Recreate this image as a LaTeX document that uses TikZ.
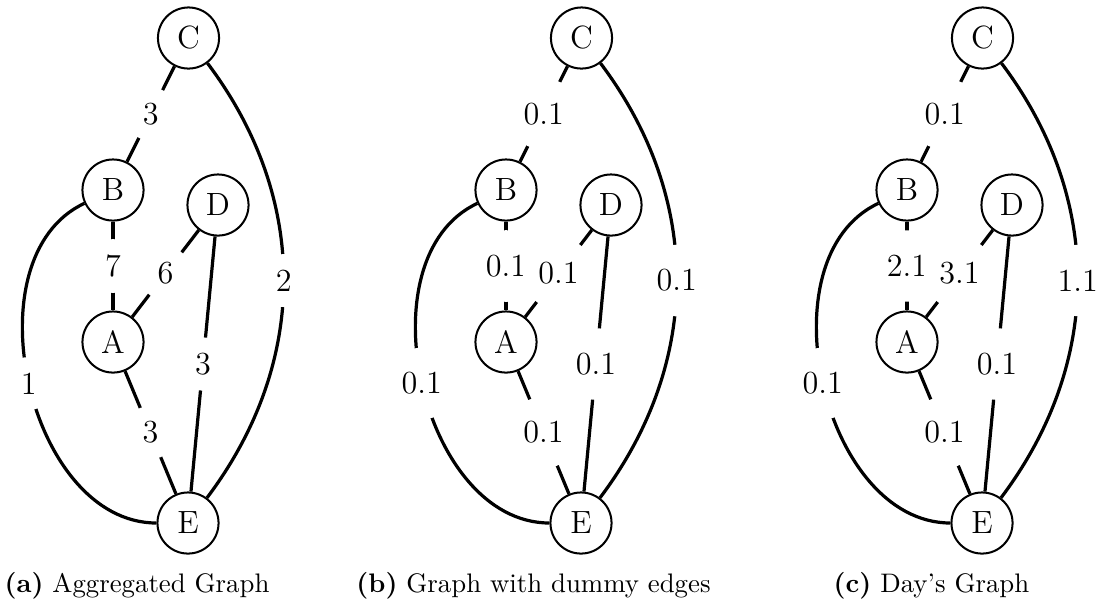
\documentclass[tikz,border=0pt]{standalone}
\usepackage{tikz}

% one weighted graph: #1 x offset, #2 name prefix, #3--#9 edge weights
\newcommand{\wgraph}[9]{%
  \begin{scope}[shift={(#1,0)}]
    \node[vertex] (#2C) at (188.5,38) {C};
    \node[vertex] (#2B) at (113,190) {B};
    \node[vertex] (#2D) at (218,205) {D};
    \node[vertex] (#2A) at (113,342) {A};
    \node[vertex] (#2E) at (188,523) {E};
    \draw[edge] (#2C) -- node[weight] {#3} (#2B);
    \draw[edge] (#2B) -- node[weight] {#4} (#2A);
    \draw[edge] (#2A) -- node[weight] {#5} (#2D);
    \draw[edge] (#2D) -- node[weight] {#6} (#2E);
    \draw[edge] (#2A) -- node[weight] {#7} (#2E);
    \draw[edge] (#2B) to[out=205,in=180] node[weight] {#8} (#2E);
    \draw[edge] (#2C) to[out=-53,in=53] node[weight] {#9} (#2E);
  \end{scope}}

\begin{document}
\begin{tikzpicture}[x=0.3731pt,y=-0.3731pt,
  vertex/.style={draw,circle,line width=0.75pt,minimum size=22.8pt,inner sep=0pt,font=\large},
  weight/.style={circle,fill=white,inner sep=3.5pt,font=\large},
  edge/.style={line width=1.2pt},
  subcap/.style={anchor=base}
]
\useasboundingbox (0,0) rectangle (1102,598);
\wgraph{0}{a}{3}{7}{6}{3}{3}{1}{2}
\wgraph{393}{b}{0.1}{0.1}{0.1}{0.1}{0.1}{0.1}{0.1}
\wgraph{794}{c}{0.1}{2.1}{3.1}{0.1}{0.1}{0.1}{1.1}
\node[subcap] (capa) at (137,592) {\textbf{(a)} Aggregated Graph};
\node[subcap] (capb) at (533.5,592) {\textbf{(b)} Graph with dummy edges};
\node[subcap] (capc) at (931.5,592) {\textbf{(c)} Day's Graph};
\end{tikzpicture}
\end{document}
